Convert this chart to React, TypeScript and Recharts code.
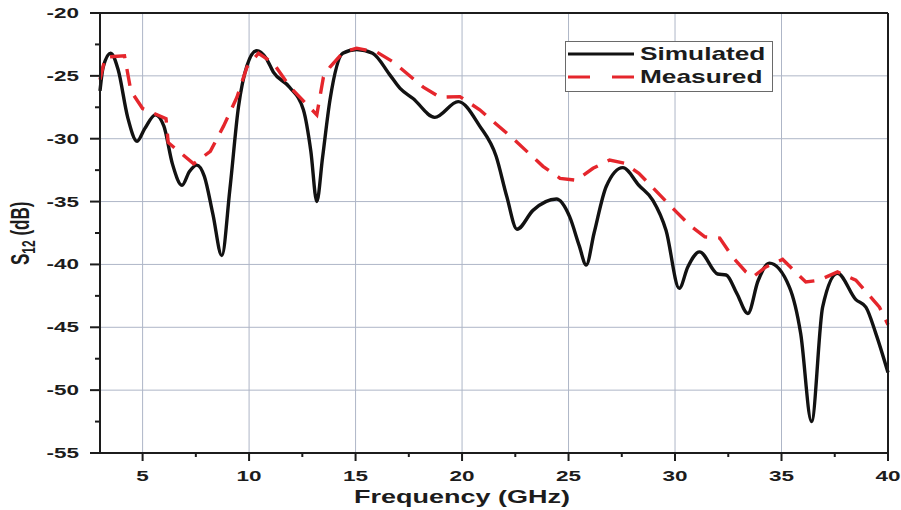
import React from 'react';
import { LineChart, Line, XAxis, YAxis, CartesianGrid, Legend } from 'recharts';

// Simulated S12 sweep (GHz, dB)
const simFreq = [
  3.0, 3.15, 3.5, 3.85, 4.3, 4.74, 5.1, 5.6, 6.0, 6.4, 6.85, 7.2, 7.55, 7.9, 8.3, 8.72, 9.1, 9.5, 9.9,
  10.36, 10.8, 11.14, 11.9, 12.55, 12.9, 13.18, 13.45, 13.8, 14.4, 15.05, 15.8, 16.6, 17.09, 17.7,
  18.72, 19.82, 20.83, 21.6, 22.1, 22.58, 23.33, 24.43, 25.05, 25.5, 25.83, 26.2, 26.77, 27.55, 28.3,
  28.96, 29.58, 30.2, 30.6, 31.15, 32.0, 32.4, 32.9, 33.42, 33.9, 34.43, 35.37, 35.9, 36.41, 36.93,
  37.63, 38.49, 38.96, 39.43, 40.0,
];
const simS12 = [
  -26.2, -24.3, -23.2, -24.5, -28.3, -30.2, -29.2, -28.1, -29.0, -32.0, -33.7, -32.6, -32.1, -33.0,
  -36.0, -39.3, -34.0, -27.5, -24.2, -23.0, -23.6, -24.7, -25.9, -27.7, -31.0, -35.0, -31.5, -26.9,
  -23.2, -22.9, -23.2, -24.9, -26.0, -26.8, -28.3, -27.05, -29.0, -31.4, -34.6, -37.2, -35.7, -34.8,
  -36.2, -38.5, -40.05, -37.5, -33.8, -32.3, -33.7, -34.9, -37.3, -41.9, -40.2, -39.0, -40.76,
  -40.84, -42.3, -43.9, -41.3, -39.9, -41.8, -45.5, -52.5, -43.4, -40.7, -42.8, -43.4, -45.5, -48.6,
];

// Measured S12 points
const measFreq = [
  3.0, 3.25, 4.15, 4.45, 5.0, 6.1, 6.2, 6.77, 7.4, 8.18, 8.8, 9.43, 9.9, 10.44, 11.14, 11.93, 13.18,
  13.49, 13.8, 14.43, 15.05, 15.99, 16.77, 18.18, 18.96, 19.9, 20.83, 22.4, 23.8, 24.6, 25.37, 26.15,
  26.93, 27.63, 28.3, 30.05, 30.7, 31.4, 32.1, 32.7, 33.33, 33.65, 34.27, 35.05, 36.14, 36.77, 37.63,
  38.49, 39.6, 40.0,
];
const measS12 = [
  -25.3, -23.5, -23.4, -26.2, -27.6, -28.4, -30.3, -31.1, -32.0, -31.0, -29.0, -26.7, -24.3, -23.2,
  -24.0, -25.9, -28.1, -25.1, -24.3, -23.1, -22.8, -23.1, -23.9, -25.9, -26.7, -26.65, -27.7, -30.0,
  -32.2, -33.15, -33.3, -32.35, -31.7, -31.95, -32.75, -35.8, -36.9, -37.8, -37.9, -39.4, -40.6,
  -41.0, -40.2, -39.6, -41.4, -41.25, -40.6, -41.25, -43.4, -44.8,
];

const seriesNames = ['Simulated', 'Measured'];
const xTicks = [5, 7.5, 10, 12.5, 15, 17.5, 20, 22.5, 25, 27.5, 30, 32.5, 35, 37.5, 40];
const xMajor = [5, 10, 15, 20, 25, 30, 35, 40];
const yTicks = [-55, -52.5, -50, -47.5, -45, -42.5, -40, -37.5, -35, -32.5, -30, -27.5, -25, -22.5, -20];
const yMajor = [-55, -50, -45, -40, -35, -30, -25, -20];
const xGrid = [5, 10, 15, 20, 25, 30, 35];
const yGrid = [-50, -45, -40, -35, -30, -25];

const simulated = simFreq.map((f, i) => ({ f, s12: simS12[i] }));
const measured = measFreq.map((f, i) => ({ f, s12: measS12[i] }));

const FONT = '"Liberation Sans", Arial, sans-serif';
const INK = '#1c1c1c';
const RED = '#e5262c';
const GRID = '#aeb6c7';
const WIDE = 1.5; // the typeface is set horizontally stretched

function WideText({ x, y, anchor = 'middle', size, rotate, children }: any) {
  const t = `translate(${x} ${y}) scale(${WIDE} 1)` + (rotate ? ` rotate(${rotate})` : '');
  return (
    <text transform={t} textAnchor={anchor} fontSize={size} fontWeight="bold" fontFamily={FONT} fill={INK}>
      {children}
    </text>
  );
}

const BottomTick = ({ x, y, payload }: any) => {
  const major = xMajor.includes(payload.value);
  return (
    <g>
      <line x1={x} x2={x} y1={y} y2={y + (major ? 8 : 4)} stroke={INK} strokeWidth={2} />
      {major && <WideText x={x} y={y + 28} size={15}>{payload.value}</WideText>}
    </g>
  );
};

const TopTick = ({ x, y, payload }: any) => {
  const major = xMajor.includes(payload.value);
  return <line x1={x} x2={x} y1={y} y2={y + (major ? 8 : 4)} stroke={INK} strokeWidth={2} />;
};

const LeftTick = ({ x, y, payload }: any) => {
  const major = yMajor.includes(payload.value);
  return (
    <g>
      <line x1={x} x2={x - (major ? 10 : 5)} y1={y} y2={y} stroke={INK} strokeWidth={2} />
      {major && <WideText x={x - 21} y={y + 5} anchor="end" size={15}>{payload.value}</WideText>}
    </g>
  );
};

const RightTick = ({ x, y, payload }: any) => {
  const major = yMajor.includes(payload.value);
  return <line x1={x} x2={x - (major ? 7 : 4)} y1={y} y2={y} stroke={INK} strokeWidth={2} />;
};

const LegendBox = ({ payload }: any) => {
  const items = [...(payload || [])].sort(
    (a: any, b: any) => seriesNames.indexOf(a.value) - seriesNames.indexOf(b.value),
  );
  return (
    <svg width={208} height={51} style={{ display: 'block' }}>
      <rect x={0.5} y={0.5} width={207} height={50} fill="#fff" stroke="#6a6a6a" />
      {items.map((entry: any, i: number) => {
        const cy = 13 + i * 23;
        return (
          <g key={entry.value}>
            <line
              x1={3}
              x2={69}
              y1={cy}
              y2={cy}
              stroke={entry.color}
              strokeWidth={3.2}
              strokeDasharray={entry.payload?.strokeDasharray ? '22 22' : undefined}
            />
            <WideText x={75} y={cy + 6} anchor="start" size={17.5}>{entry.value}</WideText>
          </g>
        );
      })}
    </svg>
  );
};

export default function App() {
  return (
    <div style={{ position: 'relative', width: 901, height: 510 }}>
      <style>{'body{margin:0}'}</style>
      <LineChart width={901} height={510} margin={{ top: 13, right: 13, bottom: 0, left: 0 }}>
        <CartesianGrid stroke={GRID} strokeWidth={1} verticalValues={xGrid} horizontalValues={yGrid} />
        <XAxis
          dataKey="f"
          type="number"
          domain={[3, 40]}
          ticks={xTicks}
          interval={0}
          height={57}
          tickSize={0}
          tickMargin={0}
          tickLine={false}
          axisLine={{ stroke: INK, strokeWidth: 2 }}
          tick={<BottomTick />}
        />
        <XAxis
          xAxisId="top"
          orientation="top"
          mirror
          dataKey="f"
          type="number"
          domain={[3, 40]}
          ticks={xTicks}
          interval={0}
          tickSize={0}
          tickMargin={0}
          tickLine={false}
          axisLine={{ stroke: INK, strokeWidth: 2 }}
          tick={<TopTick />}
        />
        <YAxis
          type="number"
          domain={[-55, -20]}
          ticks={yTicks}
          interval={0}
          width={100}
          tickSize={0}
          tickMargin={0}
          tickLine={false}
          axisLine={{ stroke: INK, strokeWidth: 2 }}
          tick={<LeftTick />}
        />
        <YAxis
          yAxisId="right"
          orientation="right"
          mirror
          type="number"
          domain={[-55, -20]}
          ticks={yTicks}
          interval={0}
          tickSize={0}
          tickMargin={0}
          tickLine={false}
          axisLine={{ stroke: INK, strokeWidth: 2 }}
          tick={<RightTick />}
        />
        <Legend
          layout="vertical"
          align="center"
          verticalAlign="middle"
          content={<LegendBox />}
          wrapperStyle={{ left: 565, top: 41, width: 208, height: 51 }}
        />
        <Line
          data={simulated}
          dataKey="s12"
          name="Simulated"
          type="monotone"
          stroke="#121212"
          strokeWidth={3.4}
          dot={false}
          activeDot={false}
          isAnimationActive={false}
        />
        <Line
          data={measured}
          dataKey="s12"
          name="Measured"
          type="linear"
          stroke={RED}
          strokeWidth={3.4}
          strokeDasharray="17 11"
          dot={false}
          activeDot={false}
          isAnimationActive={false}
        />
      </LineChart>
      <svg width={901} height={510} style={{ position: 'absolute', left: 0, top: 0, pointerEvents: 'none' }}>
        <WideText x={462} y={503} size={18}>Frequency (GHz)</WideText>
        <WideText x={29} y={265} size={17} rotate={-90} anchor="start">
          S<tspan fontSize={12} dy={4}>12</tspan>
          <tspan fontSize={17} dy={-4}> (dB)</tspan>
        </WideText>
      </svg>
    </div>
  );
}
